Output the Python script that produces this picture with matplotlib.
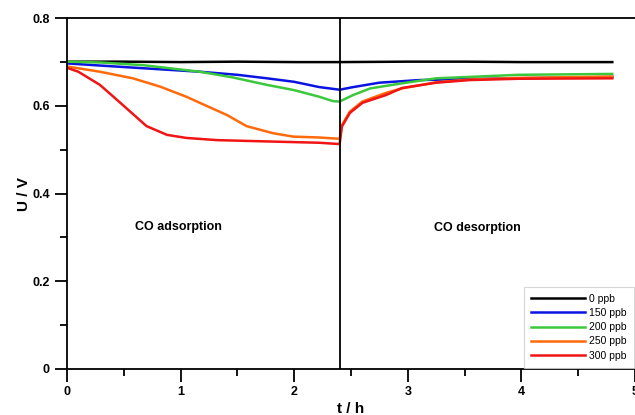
import matplotlib
matplotlib.use("Agg")
import matplotlib.pyplot as plt
from matplotlib.ticker import MultipleLocator

plt.rcParams['font.family'] = ['Liberation Sans', 'DejaVu Sans']

# values
t_black = [0, 0.5, 1.0, 1.5, 2.0, 2.4, 3.0, 3.5, 4.0, 4.5, 4.8]
u_black = [0.701, 0.701, 0.700, 0.701, 0.700, 0.700, 0.701, 0.701, 0.700, 0.700, 0.700]

t_blue = [0, 0.3, 0.67, 1.17, 1.5, 1.76, 2.0, 2.22, 2.4, 2.52, 2.75, 3.1, 3.69, 4.2, 4.8]
u_blue = [0.697, 0.692, 0.686, 0.678, 0.671, 0.663, 0.655, 0.643, 0.637, 0.643, 0.653, 0.659, 0.662, 0.664, 0.666]

t_green = [0, 0.3, 0.67, 1.17, 1.46, 1.76, 2.0, 2.22, 2.34, 2.4, 2.52, 2.67, 2.96, 3.25, 3.98, 4.8]
u_green = [0.701, 0.699, 0.693, 0.678, 0.665, 0.648, 0.636, 0.621, 0.611, 0.610, 0.625, 0.640, 0.652, 0.663, 0.671, 0.673]

t_orange = [0, 0.29, 0.58, 0.82, 1.05, 1.17, 1.41, 1.58, 1.81, 1.99, 2.22, 2.4, 2.42, 2.49, 2.6, 2.81, 2.95, 3.25, 3.54, 3.98, 4.8]
u_orange = [0.690, 0.678, 0.663, 0.644, 0.621, 0.607, 0.579, 0.554, 0.538, 0.530, 0.528, 0.525, 0.556, 0.587, 0.610, 0.630, 0.640, 0.654, 0.660, 0.664, 0.667]

t_red = [0, 0.1, 0.29, 0.47, 0.7, 0.88, 1.05, 1.32, 1.76, 2.22, 2.4, 2.42, 2.49, 2.6, 2.81, 2.95, 3.25, 3.54, 3.98, 4.8]
u_red = [0.687, 0.678, 0.648, 0.607, 0.554, 0.534, 0.527, 0.522, 0.519, 0.516, 0.513, 0.553, 0.584, 0.607, 0.625, 0.641, 0.653, 0.659, 0.662, 0.663]

labels = ['0 ppb', '150 ppb', '200 ppb', '250 ppb', '300 ppb']
colors = ['#000000', '#0a14e0', '#3cc83c', '#ff6a0a', '#f01414']

fig = plt.figure(figsize=(6.35, 4.15), dpi=100)
ax = fig.add_axes([0.1055, 0.111, 0.8945, 0.845])

series = [(t_black, u_black), (t_blue, u_blue), (t_green, u_green),
          (t_orange, u_orange), (t_red, u_red)]
for (t, u), lab, c in zip(series, labels, colors):
    ax.plot(t, u, color=c, lw=1.8, label=lab)

ax.axvline(2.4, color='black', lw=1.3)

ax.set_xlim(0, 5)
ax.set_ylim(0, 0.8)
ax.xaxis.set_major_locator(MultipleLocator(1))
ax.xaxis.set_minor_locator(MultipleLocator(0.5))
ax.yaxis.set_major_locator(MultipleLocator(0.2))
ax.yaxis.set_minor_locator(MultipleLocator(0.1))
ax.set_yticks([0, 0.2, 0.4, 0.6, 0.8])
ax.set_yticklabels(['0', '0.2', '0.4', '0.6', '0.8'])
ax.tick_params(which='major', direction='out', length=9, width=1.3, labelsize=9)
ax.tick_params(which='minor', direction='out', length=5, width=1.3)
for lab in ax.get_xticklabels() + ax.get_yticklabels():
    lab.set_fontweight('bold')
for s in ax.spines.values():
    s.set_linewidth(1.3)
ax.spines['right'].set_visible(False)

ax.set_xlabel('t / h', fontsize=11, fontweight='bold', labelpad=3)
ax.set_ylabel('U / V', fontsize=11, fontweight='bold', labelpad=1)

ax.text(0.98, 0.324, 'CO adsorption', ha='center', va='center', fontsize=9, fontweight='bold')
ax.text(3.61, 0.321, 'CO desorption', ha='center', va='center', fontsize=9, fontweight='bold')

leg = ax.legend(loc='lower right', fontsize=7.5, handlelength=5.2, frameon=True,
                fancybox=False, edgecolor='#cccccc', borderaxespad=0.1,
                labelspacing=0.4, handletextpad=0.4, borderpad=0.7)
leg.get_frame().set_linewidth(0.8)

fig.savefig('out.png', dpi=100)
